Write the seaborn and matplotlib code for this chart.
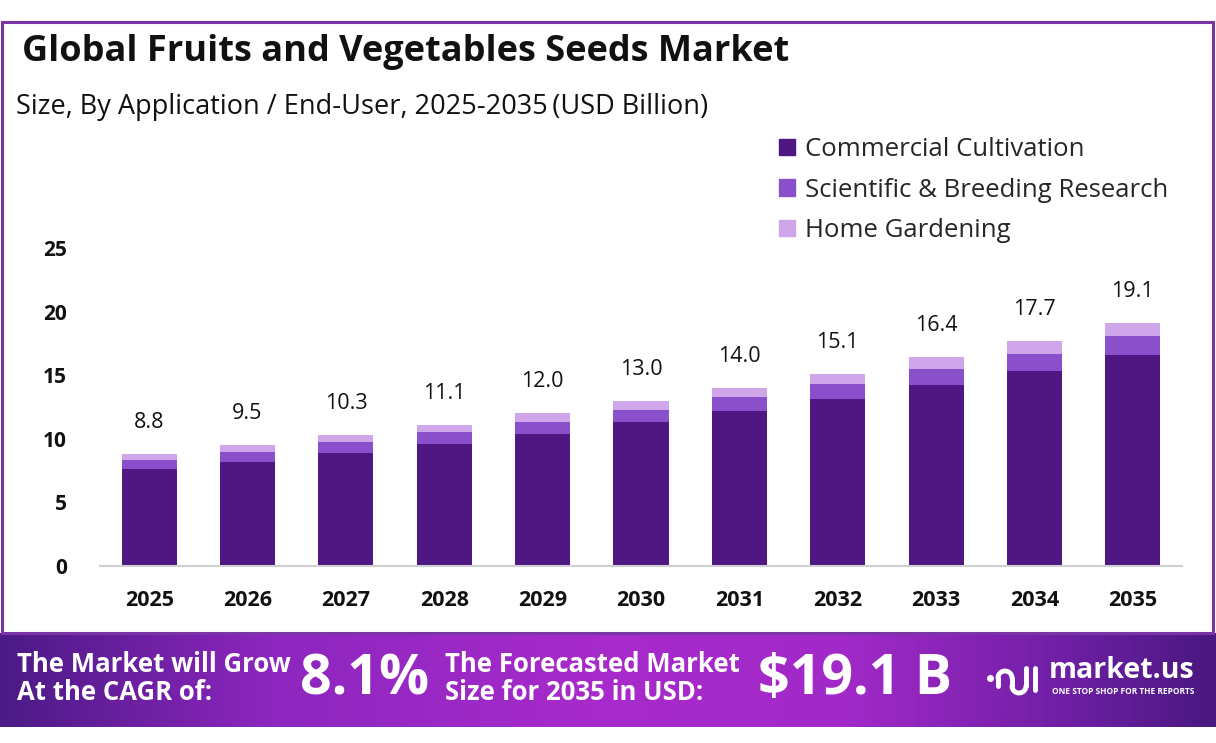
import numpy as np
import pandas as pd
import matplotlib
matplotlib.use("Agg")
import matplotlib.pyplot as plt
import seaborn as sns
from matplotlib.colors import LinearSegmentedColormap
from matplotlib.patches import Rectangle

# ---------------- data ----------------
years = ["2025", "2026", "2027", "2028", "2029", "2030", "2031", "2032", "2033", "2034", "2035"]
commercial = [7.6, 8.2, 8.9, 9.6, 10.4, 11.3, 12.2, 13.1, 14.2, 15.3, 16.6]
research = [0.7, 0.8, 0.85, 0.9, 0.95, 1.0, 1.05, 1.2, 1.3, 1.4, 1.5]
home = [0.5, 0.5, 0.55, 0.6, 0.65, 0.7, 0.75, 0.8, 0.9, 1.0, 1.0]
totals = [8.8, 9.5, 10.3, 11.1, 12.0, 13.0, 14.0, 15.1, 16.4, 17.7, 19.1]
series_names = ["Commercial Cultivation", "Scientific & Breeding Research", "Home Gardening"]
yticks = [0, 5, 10, 15, 20, 25]

title = "Global Fruits and Vegetables Seeds Market"
subtitle = "Size, By Application / End-User, 2025-2035\u2009(USD Billion)"
cagr = "8.1%"
forecast = "$19.1 B"

colors = ["#4E1782", "#8A4FCB", "#CFA6EA"]

# ---------------- style ----------------
sns.set_style("white")
plt.rcParams['font.family'] = ['Open Sans', 'DejaVu Sans']
text_dark = "#111111"

fig = plt.figure(figsize=(12.16, 7.43), dpi=100)
W, H = 1216, 743

def fx(px):
    return px / W

def fy(py):
    return 1 - py / H

df = pd.DataFrame({"year": years, "c": commercial, "r": research, "h": home})
df["cr"] = df["c"] + df["r"]
df["crh"] = df["cr"] + df["h"]

ax = fig.add_axes([fx(100), fy(566), fx(1182) - fx(100), fy(248) - fy(566)])
for col, color in zip(["crh", "cr", "c"], colors[::-1]):
    sns.barplot(data=df, x="year", y=col, color=color, width=0.56, ax=ax,
                saturation=1, edgecolor="none", linewidth=0)

ax.set_ylim(0, 25)
ax.set_xlim(-0.5, len(years) - 0.5)
ax.set_yticks(yticks)
ax.set_yticklabels([str(t) for t in yticks])
ax.set_xlabel("")
ax.set_ylabel("")
for s in ["top", "right", "left"]:
    ax.spines[s].set_visible(False)
ax.spines["bottom"].set_color("#D0D0D0")
ax.spines["bottom"].set_linewidth(1.5)
ax.tick_params(axis="y", length=0, pad=24, labelsize=15, labelcolor=text_dark)
ax.tick_params(axis="x", length=0, pad=17, labelsize=15.5, labelcolor=text_dark)
for lbl in ax.get_xticklabels() + ax.get_yticklabels():
    lbl.set_fontweight("bold")

for i, t in enumerate(totals):
    ax.annotate(f"{t:.1f}", xy=(i, t), xytext=(0, 21), textcoords="offset pixels",
                ha="center", va="bottom", fontsize=15.5, color=text_dark)

# legend
handles = [Rectangle((0, 0), 1, 1, color=c) for c in colors]
fig.legend(handles, series_names, loc="upper left",
           bbox_to_anchor=(fx(769), fy(127)), frameon=False, fontsize=18.5,
           handlelength=0.6, handleheight=0.6, handletextpad=0.42,
           labelspacing=0.6, borderaxespad=0)

# titles
fig.text(fx(22), fy(52), title, fontsize=26, fontweight="bold", color=text_dark,
         ha="left", va="center")
fig.text(fx(16), fy(107), subtitle, fontsize=19.5, color=text_dark,
         ha="left", va="center")

# border
border = Rectangle((fx(1.5), fy(633)), fx(1212.5) - fx(1.5), fy(22) - fy(633),
                   transform=fig.transFigure, fill=False, edgecolor="#7A34A6",
                   linewidth=2.2, zorder=0)
fig.patches.append(border)

# footer gradient
fax = fig.add_axes([0, fy(727), 1, fy(633) - fy(727)])
cmap = LinearSegmentedColormap.from_list(
    "foot", [(0.0, "#4C1A86"), (0.22, "#8C26BE"), (0.5, "#A82BCB"),
             (0.7, "#A129C8"), (0.88, "#6E1FA4"), (1.0, "#4A1880")])
grad = np.linspace(0, 1, 512).reshape(1, -1)
fax.imshow(grad, aspect="auto", cmap=cmap, extent=(0, 1, 0, 1))
fax.set_xlim(0, 1)
fax.set_ylim(0, 1)
fax.axis("off")

white = "white"
fig.text(fx(17), fy(664), "The Market will Grow", fontsize=18.5, fontweight="bold",
         color=white, ha="left", va="center")
fig.text(fx(17), fy(693), "At the CAGR of:", fontsize=18.5, fontweight="bold",
         color=white, ha="left", va="center")
fig.text(fx(300), fy(680), cagr, fontsize=40, fontweight="bold", color=white,
         ha="left", va="center")
fig.text(fx(445), fy(664), "The Forecasted Market", fontsize=18.5, fontweight="bold",
         color=white, ha="left", va="center")
fig.text(fx(445), fy(693), "Size for 2035 in USD:", fontsize=18.5, fontweight="bold",
         color=white, ha="left", va="center")
fig.text(fx(758), fy(680), forecast, fontsize=40, fontweight="bold", color=white,
         ha="left", va="center")
fig.text(fx(1049), fy(671), "market.us", fontsize=20.5, fontweight="bold",
         color=white, ha="left", va="center")
fig.text(fx(1052), fy(691), "ONE STOP SHOP FOR THE REPORTS", fontsize=6,
         fontweight="bold", color=white, ha="left", va="center")

# logo glyph (simple strokes)
lax = fig.add_axes([fx(985), fy(700), fx(1042) - fx(985), fy(655) - fy(700)])
lax.set_xlim(0, 57)
lax.set_ylim(0, 45)
lax.axis("off")
lax.plot([5], [22], "o", color=white, markersize=4)
th = np.linspace(0, np.pi, 40)
lax.plot(20 + 7 * np.cos(th), 22 + 7 * np.sin(th), color=white, lw=3.5, solid_capstyle="round")
lax.plot([13, 13], [22, 14], color=white, lw=3.5, solid_capstyle="round")
lax.plot([27, 27], [22, 14], color=white, lw=3.5, solid_capstyle="round")
th2 = np.linspace(np.pi, 2 * np.pi, 40)
lax.plot(34 + 7 * np.cos(th2), 14 + 7 * np.sin(th2), color=white, lw=3.5, solid_capstyle="round")
lax.plot([41, 41], [14, 32], color=white, lw=3.5, solid_capstyle="round")
lax.plot([50, 50], [10, 32], color=white, lw=3.5, solid_capstyle="round")

fig.savefig("out.png", dpi=100)
